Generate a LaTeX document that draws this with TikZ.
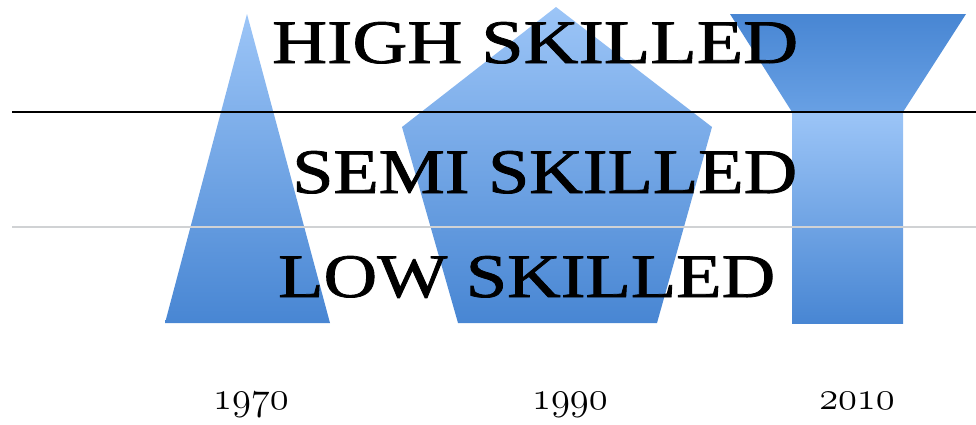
\documentclass[tikz,border=0pt]{standalone}
\usepackage{fontspec}
\usepackage{graphicx}
\newfontfamily\bandfont[FakeBold=1.2]{Liberation Serif}

% old-style digits from the math italic font
\newcommand\yearnum[1]{\scalebox{1.55}[1.6]{\fontencoding{OML}\fontfamily{cmm}\fontseries{m}\fontshape{it}\fontsize{24.88}{26}\selectfont #1}}

\definecolor{blueLight}{RGB}{156,197,247}
\definecolor{blueMid}{RGB}{104,160,228}
\definecolor{blueDark}{RGB}{72,134,211}
\definecolor{ruleGray}{RGB}{208,210,212}

\tikzset{
  bluebody/.style={top color=blueLight, bottom color=blueDark, draw=none},
  bluefunnel/.style={top color=blueDark, bottom color=blueMid, draw=none},
  bandlabel/.style={anchor=base west, inner sep=0pt, font=\bandfont\fontsize{62}{66}\selectfont},
  yearlabel/.style={anchor=base, inner sep=0pt},
  upperrule/.style={draw=black, line width=2.2pt},
  lowerrule/.style={draw=ruleGray, line width=2pt},
}

\begin{document}
\begin{tikzpicture}[x=1pt, y=-1pt]
  \useasboundingbox (0,0) rectangle (976,424);

  % 1970: triangle
  \shade[bluebody] (247,14) -- (330,323) -- (165,323) -- cycle;
  % 1990: pentagon
  \shade[bluebody] (556,7) -- (712,127) -- (657,323) -- (458,323) -- (402,127) -- cycle;
  % 2010: funnel top and stem
  \shade[bluefunnel] (730,14) -- (966,14) -- (903,112) -- (792,112) -- cycle;
  \shade[bluebody] (792,112) rectangle (903,323);

  % band boundaries
  \coordinate (upperL) at (12,112);
  \coordinate (upperR) at (976,112);
  \coordinate (lowerL) at (12,227);
  \coordinate (lowerR) at (976,227);
  \draw[upperrule] (upperL) -- (upperR);
  \draw[lowerrule] (lowerL) -- (lowerR);

  % band names
  \node[bandlabel] (high) at (272,63) {\resizebox{526pt}{41pt}{HIGH SKILLED}};
  \node[bandlabel] (semi) at (292,193) {\resizebox{505pt}{42pt}{SEMI SKILLED}};
  \node[bandlabel] (low)  at (278,297) {\resizebox{497pt}{41pt}{LOW SKILLED}};

  % years
  \node[yearlabel] (y1970) at (251,409) {\yearnum{1970}};
  \node[yearlabel] (y1990) at (570,409) {\yearnum{1990}};
  \node[yearlabel] (y2010) at (857,409) {\yearnum{2010}};
\end{tikzpicture}
\end{document}
